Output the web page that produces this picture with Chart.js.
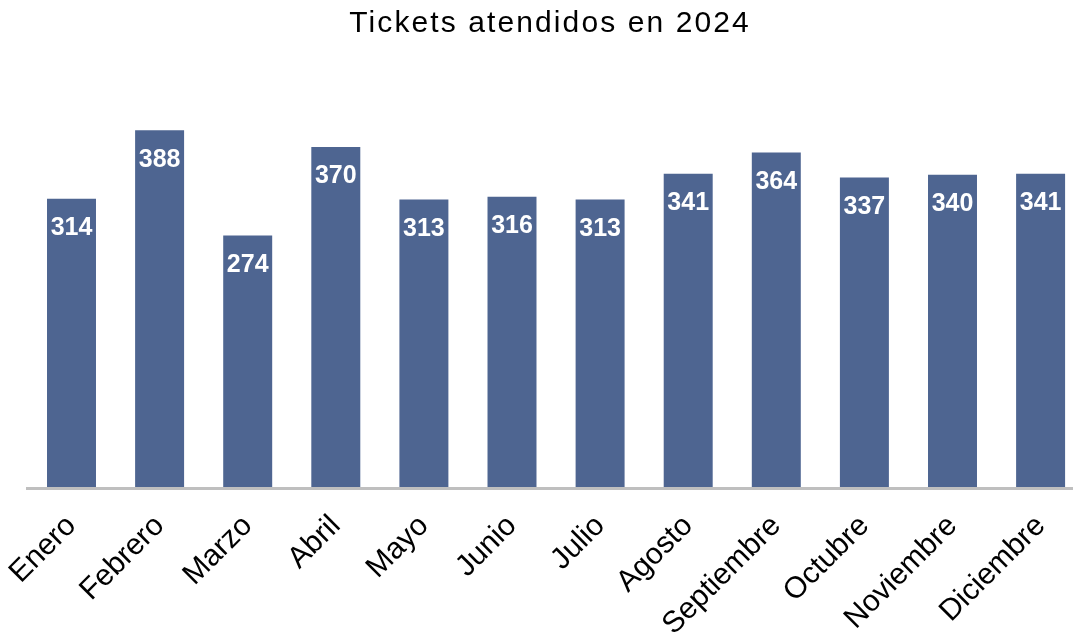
<!DOCTYPE html>
<html lang="es">
<head>
<meta charset="utf-8">
<title>Tickets atendidos en 2024</title>
<script src="https://cdn.jsdelivr.net/npm/chart.js@4.4.1/dist/chart.umd.min.js"></script>
<style>
  html, body { margin: 0; padding: 0; background: #ffffff; overflow: hidden; }
  #wrap { position: absolute; left: 0; top: 0; width: 1098px; height: 632px; }
</style>
</head>
<body>
<div id="wrap"><canvas id="chart" width="1098" height="632"></canvas></div>
<script>
// Monthly ticket counts
const months = ['Enero', 'Febrero', 'Marzo', 'Abril', 'Mayo', 'Junio', 'Julio',
                'Agosto', 'Septiembre', 'Octubre', 'Noviembre', 'Diciembre'];
const tickets = [314, 388, 274, 370, 313, 316, 313, 341, 364, 337, 340, 341];
const chartTitle = 'Tickets atendidos en 2024';

const FONT = '"Liberation Sans", Arial, Helvetica, sans-serif';
const BAR_COLOR = '#4e6591';

// Headline drawn with a little extra letter spacing
const headline = {
  id: 'headline',
  afterDraw(chart) {
    const ctx = chart.ctx;
    ctx.save();
    ctx.font = '30px ' + FONT;
    ctx.fillStyle = '#000000';
    ctx.textAlign = 'center';
    ctx.textBaseline = 'alphabetic';
    const ls = 2.1;
    ctx.letterSpacing = ls + 'px';
    ctx.fillText(chartTitle, chart.width / 2 + ls / 2, 31.8);
    ctx.restore();
  }
};

// White value labels inside the top of each bar
const valueLabels = {
  id: 'valueLabels',
  afterDatasetsDraw(chart) {
    const ctx = chart.ctx;
    const meta = chart.getDatasetMeta(0);
    const values = chart.data.datasets[0].data;
    ctx.save();
    ctx.font = 'bold 25px ' + FONT;
    ctx.fillStyle = '#ffffff';
    ctx.textAlign = 'center';
    ctx.textBaseline = 'alphabetic';
    meta.data.forEach((bar, i) => {
      ctx.fillText(String(values[i]), bar.x, bar.y + 36.3);
    });
    ctx.restore();
  }
};

new Chart(document.getElementById('chart'), {
  type: 'bar',
  data: {
    labels: months,
    datasets: [{
      data: tickets,
      backgroundColor: BAR_COLOR,
      borderWidth: 0,
      barPercentage: 0.556,
      categoryPercentage: 1.0
    }]
  },
  options: {
    responsive: false,
    animation: false,
    devicePixelRatio: 1,
    layout: { padding: { left: 27.45, right: 13.35, top: 73.1, bottom: 0 } },
    plugins: {
      legend: { display: false },
      title: { display: false },
      tooltip: { enabled: false }
    },
    scales: {
      x: {
        grid: { display: false, drawTicks: false },
        border: { display: true, color: '#bfbfbf', width: 3, z: 1 },
        ticks: {
          autoSkip: false,
          minRotation: 45,
          maxRotation: 45,
          padding: 20,
          color: '#000000',
          font: { family: FONT, size: 30 }
        },
        afterFit(scale) {
          scale.height = 143.5;
          scale.paddingLeft = 0;
          scale.paddingRight = 0;
        }
      },
      y: {
        display: false,
        min: 0,
        max: 450
      }
    }
  },
  plugins: [valueLabels, headline]
});
</script>
</body>
</html>
